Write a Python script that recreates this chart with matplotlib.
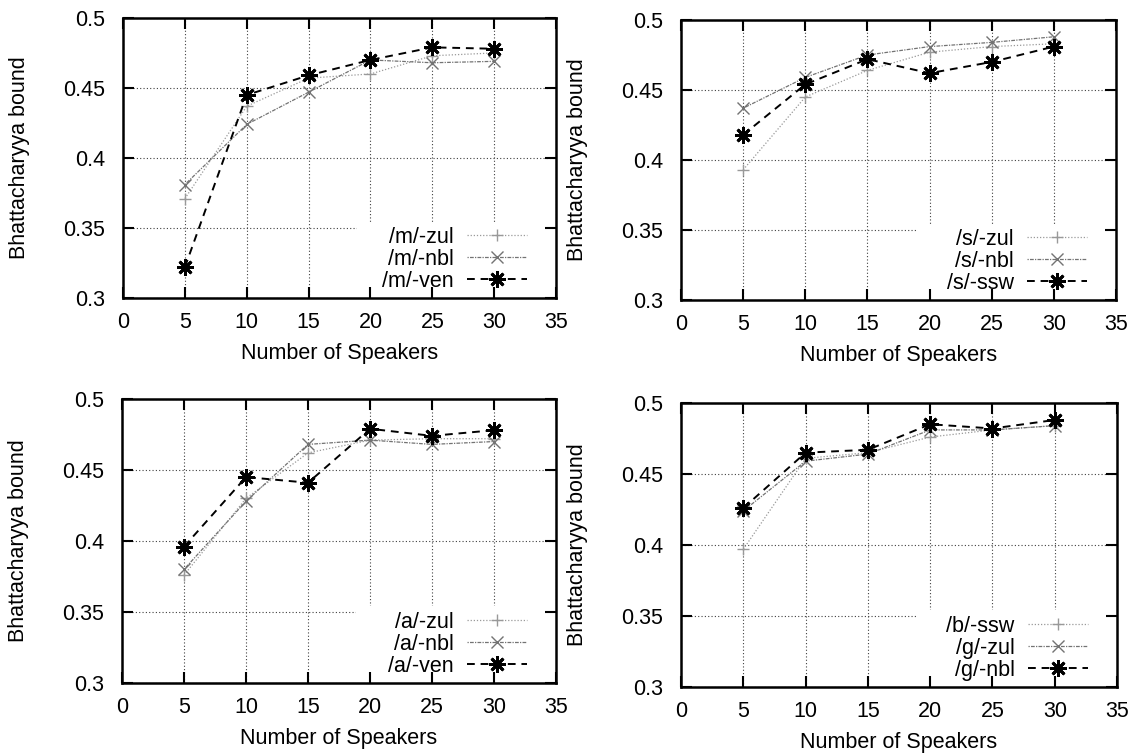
"""Bhattacharyya bound vs number of speakers, four phoneme panels"""

import matplotlib
matplotlib.use('agg')
import matplotlib.pyplot as plt
from matplotlib.patches import Rectangle

SPEAKERS = [5, 10, 15, 20, 25, 30]

# top left: /m/
M_LABELS = ["/m/-zul", "/m/-nbl", "/m/-ven"]
M_ZUL = [0.371, 0.437, 0.457, 0.460, 0.473, 0.475]
M_NBL = [0.381, 0.424, 0.447, 0.470, 0.468, 0.469]
M_VEN = [0.322, 0.445, 0.459, 0.470, 0.479, 0.478]

# top right: /s/
S_LABELS = ["/s/-zul", "/s/-nbl", "/s/-ssw"]
S_ZUL = [0.393, 0.445, 0.464, 0.477, 0.481, 0.483]
S_NBL = [0.437, 0.459, 0.475, 0.481, 0.484, 0.488]
S_SSW = [0.418, 0.454, 0.472, 0.462, 0.470, 0.481]

# bottom left: /a/
A_LABELS = ["/a/-zul", "/a/-nbl", "/a/-ven"]
A_ZUL = [0.376, 0.430, 0.462, 0.471, 0.472, 0.472]
A_NBL = [0.380, 0.428, 0.468, 0.471, 0.468, 0.470]
A_VEN = [0.396, 0.445, 0.441, 0.479, 0.474, 0.478]

# bottom right: /b/, /g/
G_LABELS = ["/b/-ssw", "/g/-zul", "/g/-nbl"]
B_SSW = [0.397, 0.461, 0.465, 0.476, 0.481, 0.484]
G_ZUL = [0.424, 0.459, 0.464, 0.481, 0.481, 0.484]
G_NBL = [0.426, 0.465, 0.467, 0.485, 0.482, 0.488]

X_TICKS = [0, 5, 10, 15, 20, 25, 30, 35]
Y_TICKS = [0.3, 0.35, 0.4, 0.45, 0.5]
Y_TICKLABELS = ["0.3", "0.35", "0.4", "0.45", "0.5"]

STYLES = [
    dict(color="0.6", linestyle=(0, (1, 1.5)), linewidth=0.9,
         marker="+", markersize=8, markeredgewidth=1.0),
    dict(color="0.45", linestyle=(0, (1, 1, 3, 1)), linewidth=0.9,
         marker="x", markersize=9, markeredgewidth=1.0),
    dict(color="black", linestyle=(0, (4, 3)), linewidth=1.4,
         marker=(8, 2, 0), markersize=12, markeredgewidth=2.0),
]

POSITIONS = [
    [0.1086, 0.6048, 0.3822, 0.3714],
    [0.6011, 0.6021, 0.3839, 0.3714],
    [0.1077, 0.0942, 0.3831, 0.3767],
    [0.6011, 0.0889, 0.3848, 0.3767],
]


def main():
    """Main function"""
    plt.rcParams["font.family"] = ["Liberation Sans", "DejaVu Sans"]
    plt.rcParams["font.size"] = 15.5
    fig = plt.figure(figsize=(11.33, 7.54), dpi=100)
    panels = [
        (M_LABELS, [M_ZUL, M_NBL, M_VEN]),
        (S_LABELS, [S_ZUL, S_NBL, S_SSW]),
        (A_LABELS, [A_ZUL, A_NBL, A_VEN]),
        (G_LABELS, [B_SSW, G_ZUL, G_NBL]),
    ]
    grid_style = dict(color="0.25", linestyle=(0, (1, 2)), linewidth=0.8,
                      zorder=0.5)
    for pos, (labels, series) in zip(POSITIONS, panels):
        ax = fig.add_axes(pos)
        for label, values, style in zip(labels, series, STYLES):
            ax.plot(SPEAKERS, values, label=label, **style)
        ax.set_xlim(0, 35)
        ax.set_ylim(0.3, 0.5)
        ax.set_xticks(X_TICKS)
        ax.set_yticks(Y_TICKS)
        ax.set_yticklabels(Y_TICKLABELS)
        # grid drawn by hand so the key box can hide part of it
        ax.vlines(X_TICKS, 0.3, 0.5, **grid_style)
        ax.hlines(Y_TICKS, 0, 35, **grid_style)
        ax.add_patch(Rectangle((0.54, 0.0), 0.46, 0.27,
                               transform=ax.transAxes, facecolor="white",
                               edgecolor="none", zorder=0.7))
        ax.tick_params(direction="in", length=8, width=1.5,
                       top=True, right=True)
        ax.tick_params(axis="x", pad=10)
        ax.tick_params(axis="y", pad=13)
        for spine in ax.spines.values():
            spine.set_linewidth(1.8)
        ax.set_xlabel("Number of Speakers", labelpad=7)
        ax.set_ylabel("Bhattacharyya bound", labelpad=24)
        ax.legend(loc="lower right", bbox_to_anchor=(0.948, 0.0),
                  markerfirst=False, numpoints=1, frameon=False,
                  borderaxespad=0, borderpad=0.3, handlelength=2.8,
                  handletextpad=0.6, labelspacing=0.04)
    fig.savefig("out.png", dpi=100)


if __name__ == "__main__":
    main()
